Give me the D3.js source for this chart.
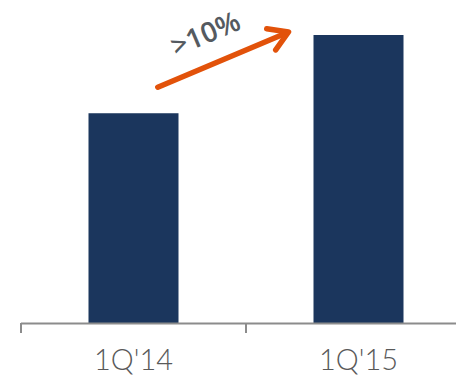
<!DOCTYPE html>
<html><head><meta charset="utf-8">
<script src="https://cdn.jsdelivr.net/npm/d3@7"></script>
<style>html,body{margin:0;padding:0;background:#fff;overflow:hidden}</style>
</head><body>
<script>
const categories = ["1Q'14", "1Q'15"];
const values = [100, 137.3];
const growthLabel = ">10%";

const W = 456, H = 375;
const svg = d3.select("body").append("svg").attr("width", W).attr("height", H);

const x = d3.scaleBand().domain(categories).range([21, 471]).paddingInner(0.6).paddingOuter(0.3);
const y = d3.scaleLinear().domain([0, 137.3]).range([323, 35]);

svg.selectAll("rect.bar").data(categories).join("rect")
  .attr("class", "bar")
  .attr("x", d => x(d))
  .attr("y", (d, i) => y(values[i]))
  .attr("width", x.bandwidth())
  .attr("height", (d, i) => y(0) - y(values[i]))
  .attr("fill", "#1b365d");

const step = x.step();
const tickPos = [21, 21 + step, 21 + 2 * step];
svg.append("line").attr("x1", 21).attr("x2", 471).attr("y1", y(0) + 0.5).attr("y2", y(0) + 0.5)
  .attr("stroke", "#8c8c8c").attr("stroke-width", 2);
svg.selectAll("line.tk").data(tickPos).join("line").attr("class", "tk")
  .attr("x1", d => d).attr("x2", d => d).attr("y1", y(0)).attr("y2", y(0) + 10)
  .attr("stroke", "#8c8c8c").attr("stroke-width", 2);

svg.selectAll("text.lbl").data(categories).join("text").attr("class", "lbl")
  .attr("x", d => x(d) + x.bandwidth() / 2)
  .attr("y", 370)
  .attr("text-anchor", "middle")
  .attr("font-family", "Lato, 'Open Sans', sans-serif")
  .attr("font-weight", 300)
  .attr("font-size", 29)
  .attr("fill", "#595959")
  .text(d => d);

const x0 = x(categories[0]) + x.bandwidth() * 0.77, y0 = y(values[0]) - 26;
const x1 = x(categories[1]) - 25, y1 = y(values[1]) - 3;
const ang = Math.atan2(y1 - y0, x1 - x0);
const orange = "#e2520a";
svg.append("line").attr("x1", x0).attr("y1", y0).attr("x2", x1 - 3 * Math.cos(ang)).attr("y2", y1 - 3 * Math.sin(ang))
  .attr("stroke", orange).attr("stroke-width", 5.5).attr("stroke-linecap", "round");
const headLen = 22, spread = 0.55;
const hp = [
  [x1 - headLen * Math.cos(ang - spread), y1 - headLen * Math.sin(ang - spread)],
  [x1, y1],
  [x1 - headLen * Math.cos(ang + spread), y1 - headLen * Math.sin(ang + spread)]
];
svg.append("path").attr("d", d3.line()(hp)).attr("fill", "none")
  .attr("stroke", orange).attr("stroke-width", 5.5).attr("stroke-linecap", "round").attr("stroke-linejoin", "round");

const deg = ang * 180 / Math.PI;
const tx = (x0 + x1) / 2 - 14, ty = (y0 + y1) / 2 - 17;
svg.append("text").attr("transform", `translate(${tx},${ty}) rotate(${deg})`)
  .attr("text-anchor", "middle")
  .attr("font-family", "'Open Sans', sans-serif")
  .attr("font-weight", 600)
  .attr("font-size", 28)
  .attr("fill", "#555a60")
  .text(growthLabel);
</script>
</body></html>
